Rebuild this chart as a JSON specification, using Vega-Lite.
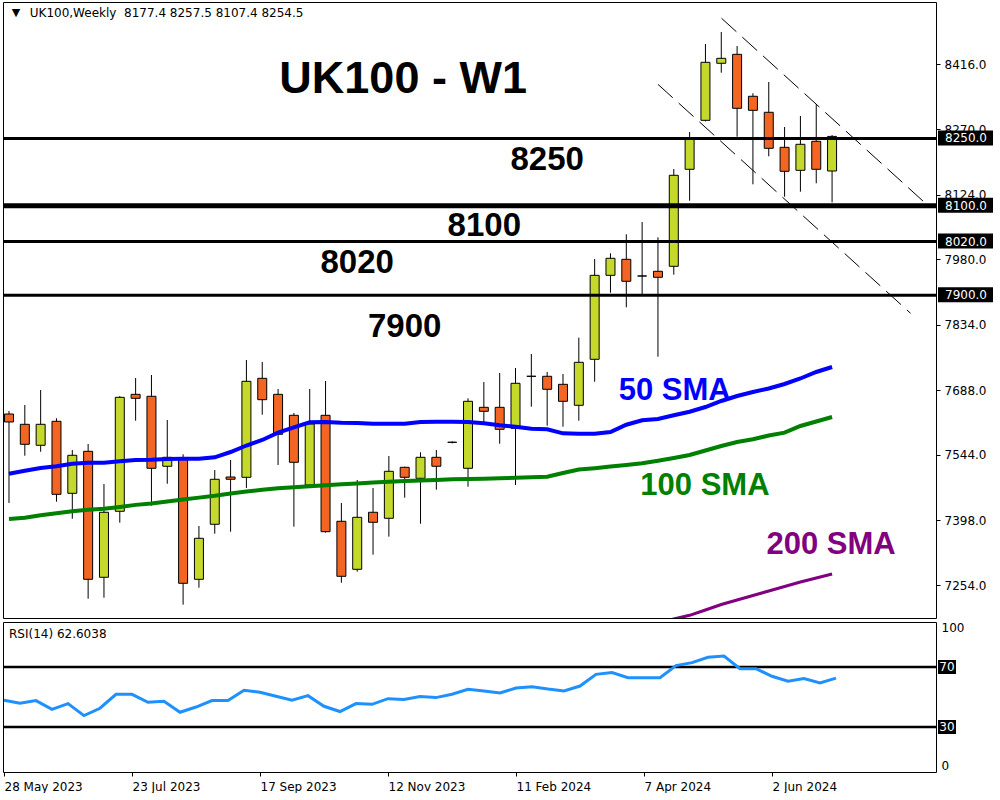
{
  "$schema": "https://vega.github.io/schema/vega-lite/v6.json",
  "background": "white",
  "padding": {"left": 2, "top": 1, "right": 0, "bottom": 0},
  "spacing": 1,
  "config": {"view": {"stroke": "black", "strokeWidth": 1}, "axis": {"grid": false}},
  "datasets": {
    "candles": [
      {"i":0,"o":7635.4,"h":7642.1,"l":7436.9,"c":7617.6},
      {"i":1,"o":7612.4,"h":7655.5,"l":7542.4,"c":7567.8},
      {"i":2,"o":7565.6,"h":7688.9,"l":7551.3,"c":7612.4},
      {"i":3,"o":7619.1,"h":7625.8,"l":7439.8,"c":7456.3},
      {"i":4,"o":7458.5,"h":7555.1,"l":7401.9,"c":7543.3},
      {"i":5,"o":7552.2,"h":7568.5,"l":7223.5,"c":7266.7},
      {"i":6,"o":7271.2,"h":7479.3,"l":7225.7,"c":7416.2},
      {"i":7,"o":7418.4,"h":7675.5,"l":7393.0,"c":7672.6},
      {"i":8,"o":7679.3,"h":7715.7,"l":7620.5,"c":7670.4},
      {"i":9,"o":7674.9,"h":7722.4,"l":7430.9,"c":7514.3},
      {"i":10,"o":7518.8,"h":7622.0,"l":7479.9,"c":7538.8},
      {"i":11,"o":7536.6,"h":7545.5,"l":7210.1,"c":7257.8},
      {"i":12,"o":7266.7,"h":7385.6,"l":7248.0,"c":7358.2},
      {"i":13,"o":7389.4,"h":7510.5,"l":7368.4,"c":7489.8},
      {"i":14,"o":7494.9,"h":7532.8,"l":7372.9,"c":7489.8},
      {"i":15,"o":7494.2,"h":7755.8,"l":7470.4,"c":7708.3},
      {"i":16,"o":7715.0,"h":7751.4,"l":7633.8,"c":7667.3},
      {"i":17,"o":7679.3,"h":7691.2,"l":7521.7,"c":7590.1},
      {"i":18,"o":7632.5,"h":7637.6,"l":7384.0,"c":7527.7},
      {"i":19,"o":7477.0,"h":7691.2,"l":7472.6,"c":7613.1},
      {"i":20,"o":7632.5,"h":7709.0,"l":7370.7,"c":7372.9},
      {"i":21,"o":7396.1,"h":7436.9,"l":7259.1,"c":7273.4},
      {"i":22,"o":7289.0,"h":7488.2,"l":7283.7,"c":7405.0},
      {"i":23,"o":7416.2,"h":7470.4,"l":7321.6,"c":7393.9},
      {"i":24,"o":7402.8,"h":7541.7,"l":7361.8,"c":7507.6},
      {"i":25,"o":7516.5,"h":7518.0,"l":7448.7,"c":7494.2},
      {"i":26,"o":7492.0,"h":7550.0,"l":7390.7,"c":7538.8},
      {"i":27,"o":7538.8,"h":7555.1,"l":7466.6,"c":7518.8},
      {"i":28,"o":7572.3,"h":7574.5,"l":7570.0,"c":7572.3},
      {"i":29,"o":7514.3,"h":7670.4,"l":7473.3,"c":7663.7},
      {"i":30,"o":7650.3,"h":7706.8,"l":7614.7,"c":7641.4},
      {"i":31,"o":7650.3,"h":7726.8,"l":7569.2,"c":7601.3},
      {"i":32,"o":7603.5,"h":7738.0,"l":7477.0,"c":7703.9},
      {"i":33,"o":7719.5,"h":7769.2,"l":7651.7,"c":7719.5},
      {"i":34,"o":7719.5,"h":7729.1,"l":7609.3,"c":7690.5},
      {"i":35,"o":7701.6,"h":7724.6,"l":7607.1,"c":7663.7},
      {"i":36,"o":7654.8,"h":7805.6,"l":7620.5,"c":7750.7},
      {"i":37,"o":7757.4,"h":7981.1,"l":7707.4,"c":7944.7},
      {"i":38,"o":7944.7,"h":7993.8,"l":7905.9,"c":7982.7},
      {"i":39,"o":7980.4,"h":8036.2,"l":7873.4,"c":7931.4},
      {"i":40,"o":7943.2,"h":8063.6,"l":7901.5,"c":7943.2},
      {"i":41,"o":7953.7,"h":8029.5,"l":7763.2,"c":7940.3},
      {"i":42,"o":7964.8,"h":8181.8,"l":7946.1,"c":8167.8},
      {"i":43,"o":8181.2,"h":8264.3,"l":8111.1,"c":8248.1},
      {"i":44,"o":8290.4,"h":8460.6,"l":8288.0,"c":8419.8},
      {"i":45,"o":8417.6,"h":8487.4,"l":8396.6,"c":8428.7},
      {"i":46,"o":8437.6,"h":8456.1,"l":8253.9,"c":8317.2},
      {"i":47,"o":8344.0,"h":8350.7,"l":8147.7,"c":8312.7},
      {"i":48,"o":8308.3,"h":8375.9,"l":8210.1,"c":8228.0},
      {"i":49,"o":8230.2,"h":8275.5,"l":8120.0,"c":8176.7},
      {"i":50,"o":8178.9,"h":8300.0,"l":8131.2,"c":8236.9},
      {"i":51,"o":8243.6,"h":8326.1,"l":8149.9,"c":8181.2},
      {"i":52,"o":8177.4,"h":8257.5,"l":8107.4,"c":8254.5}
    ],
    "sma": [
      {"i":0,"s50":7502.2,"s100":7401.2},{"i":1,"s50":7508.9,"s100":7404.1},{"i":2,"s50":7515.0,"s100":7409.7},
      {"i":3,"s50":7518.7,"s100":7414.2},{"i":4,"s50":7524.6,"s100":7418.4},{"i":5,"s50":7526.8,"s100":7422.0},
      {"i":6,"s50":7526.8,"s100":7424.2},{"i":7,"s50":7529.9,"s100":7428.2},{"i":8,"s50":7532.8,"s100":7432.7},
      {"i":9,"s50":7533.5,"s100":7435.8},{"i":10,"s50":7535.0,"s100":7440.0},{"i":11,"s50":7535.7,"s100":7444.7},
      {"i":12,"s50":7535.7,"s100":7448.9},{"i":13,"s50":7538.8,"s100":7453.0},{"i":14,"s50":7550.6,"s100":7457.9},
      {"i":15,"s50":7565.1,"s100":7462.5},{"i":16,"s50":7577.4,"s100":7466.3},{"i":17,"s50":7593.7,"s100":7469.7},
      {"i":18,"s50":7605.7,"s100":7471.9},{"i":19,"s50":7616.9,"s100":7474.3},{"i":20,"s50":7617.6,"s100":7476.4},
      {"i":21,"s50":7616.0,"s100":7478.6},{"i":22,"s50":7615.3,"s100":7480.6},{"i":23,"s50":7613.7,"s100":7482.6},
      {"i":24,"s50":7613.7,"s100":7484.2},{"i":25,"s50":7613.7,"s100":7486.0},{"i":26,"s50":7617.6,"s100":7487.3},
      {"i":27,"s50":7618.2,"s100":7488.4},{"i":28,"s50":7618.2,"s100":7489.8},{"i":29,"s50":7617.6,"s100":7490.5},
      {"i":30,"s50":7614.6,"s100":7491.1},{"i":31,"s50":7610.2,"s100":7492.0},{"i":32,"s50":7607.1,"s100":7493.1},
      {"i":33,"s50":7602.6,"s100":7494.2},{"i":34,"s50":7601.3,"s100":7495.6},{"i":35,"s50":7592.3,"s100":7503.8},
      {"i":36,"s50":7591.4,"s100":7511.6},{"i":37,"s50":7591.4,"s100":7514.5},{"i":38,"s50":7595.3,"s100":7518.1},
      {"i":39,"s50":7611.5,"s100":7521.7},{"i":40,"s50":7621.3,"s100":7525.7},{"i":41,"s50":7624.2,"s100":7531.0},
      {"i":42,"s50":7632.5,"s100":7537.3},{"i":43,"s50":7640.5,"s100":7544.0},{"i":44,"s50":7651.0,"s100":7554.0},
      {"i":45,"s50":7664.4,"s100":7564.0},{"i":46,"s50":7675.5,"s100":7572.9},{"i":47,"s50":7684.5,"s100":7579.0},
      {"i":48,"s50":7692.3,"s100":7587.4},{"i":49,"s50":7702.3,"s100":7593.7},{"i":50,"s50":7714.6,"s100":7608.6},
      {"i":51,"s50":7729.1,"s100":7618.7},{"i":52,"s50":7740.2,"s100":7628.7}
    ],
    "sma200": [
      {"i":39,"s200":7151.0},{"i":40,"s200":7160.0},{"i":41,"s200":7169.3},{"i":42,"s200":7178.2},{"i":43,"s200":7186.4},
      {"i":44,"s200":7198.3},{"i":45,"s200":7210.5},{"i":46,"s200":7220.6},{"i":47,"s200":7230.6},
      {"i":48,"s200":7240.6},{"i":49,"s200":7250.7},{"i":50,"s200":7260.7},{"i":51,"s200":7269.6},{"i":52,"s200":7278.5}
    ],
    "trend": [
      {"line":"upper","i":45.02,"p":8517.9},{"line":"upper","i":57.83,"p":8107.6},
      {"line":"lower","i":41.0,"p":8370.7},{"line":"lower","i":56.96,"p":7860.0}
    ],
    "rsi": [
      {"i":0,"r":47.8},{"i":1,"r":45.8},{"i":2,"r":47.6},{"i":3,"r":41.8},{"i":4,"r":45.6},{"i":5,"r":37.6},
      {"i":6,"r":42.5},{"i":7,"r":51.8},{"i":8,"r":51.8},{"i":9,"r":46.5},{"i":10,"r":47.1},{"i":11,"r":39.8},
      {"i":12,"r":43.3},{"i":13,"r":47.6},{"i":14,"r":47.6},{"i":15,"r":54.5},{"i":16,"r":53.1},{"i":17,"r":50.5},
      {"i":18,"r":47.8},{"i":19,"r":50.9},{"i":20,"r":43.8},{"i":21,"r":40.3},{"i":22,"r":45.6},{"i":23,"r":45.1},
      {"i":24,"r":48.9},{"i":25,"r":48.3},{"i":26,"r":50.3},{"i":27,"r":49.6},{"i":28,"r":51.8},{"i":29,"r":55.1},
      {"i":30,"r":54.0},{"i":31,"r":52.7},{"i":32,"r":56.0},{"i":33,"r":56.9},{"i":34,"r":55.3},{"i":35,"r":54.0},
      {"i":36,"r":57.3},{"i":37,"r":65.1},{"i":38,"r":66.3},{"i":39,"r":62.9},{"i":40,"r":62.9},{"i":41,"r":62.9},
      {"i":42,"r":70.9},{"i":43,"r":72.9},{"i":44,"r":76.5},{"i":45,"r":77.3},{"i":46,"r":68.9},{"i":47,"r":68.9},
      {"i":48,"r":63.8},{"i":49,"r":60.5},{"i":50,"r":62.3},{"i":51,"r":59.3},{"i":52,"r":62.6}
    ],
    "levels": [{"lv":8250},{"lv":8100},{"lv":8020},{"lv":7900}],
    "rsilevels": [{"lv":70},{"lv":30}]
  },
  "vconcat": [
    {
      "width": 933,
      "height": 616,
      "layer": [
        {
          "data": {"name": "candles"},
          "mark": {"type": "rule", "color": "black", "strokeWidth": 1, "clip": true},
          "encoding": {
            "x": {"field": "i", "type": "quantitative", "title": null, "axis": null, "scale": {"domain": [-0.0625, 58.25], "nice": false, "zero": false}},
            "y": {"field": "l", "type": "quantitative", "title": null, "scale": {"domain": [7180.4, 8554.3], "nice": false, "zero": false},
                  "axis": {"orient": "right", "values": [7254, 7398, 7544, 7688, 7834, 7980, 8124, 8270, 8416], "format": ".1f",
                           "labelFont": "DejaVu Sans", "labelFontSize": 12, "labelColor": "black", "tickSize": 4, "tickColor": "black",
                           "labelPadding": 4, "domain": false, "grid": false, "labelOverlap": false, "labelFlush": false, "labelBound": false, "title": null}},
            "y2": {"field": "h"}
          }
        },
        {
          "data": {"name": "candles"},
          "mark": {"type": "bar", "size": 9, "stroke": "black", "strokeWidth": 1, "clip": true},
          "encoding": {
            "x": {"field": "i", "type": "quantitative", "title": null},
            "y": {"field": "o", "type": "quantitative", "title": null},
            "y2": {"field": "c"},
            "fill": {"condition": {"test": "datum.c >= datum.o", "value": "#C5D92D"}, "value": "#F26522"}
          }
        },
        {
          "data": {"name": "levels"},
          "mark": {"type": "rule", "color": "black", "clip": true},
          "encoding": {
            "y": {"field": "lv", "type": "quantitative", "title": null},
            "strokeWidth": {"condition": {"test": "datum.lv == 8100", "value": 5}, "value": 3}
          }
        },
        {
          "data": {"name": "trend"},
          "mark": {"type": "line", "color": "black", "strokeWidth": 1, "strokeDash": [20, 8], "clip": true},
          "encoding": {
            "x": {"field": "i", "type": "quantitative", "title": null},
            "y": {"field": "p", "type": "quantitative", "title": null},
            "detail": {"field": "line"}
          }
        },
        {
          "data": {"name": "sma"},
          "mark": {"type": "line", "color": "#0000FF", "strokeWidth": 4, "clip": true},
          "encoding": {
            "x": {"field": "i", "type": "quantitative", "title": null},
            "y": {"field": "s50", "type": "quantitative", "title": null}
          }
        },
        {
          "data": {"name": "sma"},
          "mark": {"type": "line", "color": "#008000", "strokeWidth": 4, "clip": true},
          "encoding": {
            "x": {"field": "i", "type": "quantitative", "title": null},
            "y": {"field": "s100", "type": "quantitative", "title": null}
          }
        },
        {
          "data": {"name": "sma200"},
          "mark": {"type": "line", "color": "#800080", "strokeWidth": 3, "clip": true},
          "encoding": {
            "x": {"field": "i", "type": "quantitative", "title": null},
            "y": {"field": "s200", "type": "quantitative", "title": null}
          }
        },
        {
          "data": {"values": [{}]},
          "mark": {"type": "text", "text": "▼", "font": "DejaVu Sans", "fontSize": 11, "align": "center", "baseline": "middle", "color": "black"},
          "encoding": {"x": {"datum": 0.44, "type": "quantitative"}, "y": {"datum": 8529.7, "type": "quantitative"}}
        },
        {
          "data": {"values": [{}]},
          "mark": {"type": "text", "text": "UK100,Weekly\u00a0 8177.4 8257.5 8107.4 8254.5", "font": "DejaVu Sans", "fontSize": 12, "align": "left", "baseline": "middle", "color": "black"},
          "encoding": {"x": {"datum": 1.31, "type": "quantitative"}, "y": {"datum": 8529.7, "type": "quantitative"}}
        },
        {
          "data": {"values": [{}]},
          "mark": {"type": "text", "text": "UK100 - W1", "font": "Liberation Sans", "fontWeight": "bold", "fontSize": 45, "align": "center", "baseline": "alphabetic", "color": "black"},
          "encoding": {"x": {"datum": 24.9, "type": "quantitative"}, "y": {"datum": 8350.7, "type": "quantitative"}}
        },
        {
          "data": {"values": [{}]},
          "mark": {"type": "text", "text": "8250", "font": "Liberation Sans", "fontWeight": "bold", "fontSize": 33, "align": "center", "baseline": "alphabetic", "color": "black"},
          "encoding": {"x": {"datum": 34.0, "type": "quantitative"}, "y": {"datum": 8178.5, "type": "quantitative"}}
        },
        {
          "data": {"values": [{}]},
          "mark": {"type": "text", "text": "8100", "font": "Liberation Sans", "fontWeight": "bold", "fontSize": 33, "align": "center", "baseline": "alphabetic", "color": "black"},
          "encoding": {"x": {"datum": 30.03, "type": "quantitative"}, "y": {"datum": 8031.3, "type": "quantitative"}}
        },
        {
          "data": {"values": [{}]},
          "mark": {"type": "text", "text": "8020", "font": "Liberation Sans", "fontWeight": "bold", "fontSize": 33, "align": "center", "baseline": "alphabetic", "color": "black"},
          "encoding": {"x": {"datum": 22.0, "type": "quantitative"}, "y": {"datum": 7948.8, "type": "quantitative"}}
        },
        {
          "data": {"values": [{}]},
          "mark": {"type": "text", "text": "7900", "font": "Liberation Sans", "fontWeight": "bold", "fontSize": 33, "align": "center", "baseline": "alphabetic", "color": "black"},
          "encoding": {"x": {"datum": 25.0, "type": "quantitative"}, "y": {"datum": 7808.2, "type": "quantitative"}}
        },
        {
          "data": {"values": [{}]},
          "mark": {"type": "text", "text": "50 SMA", "font": "Liberation Sans", "fontWeight": "bold", "fontSize": 31, "align": "center", "baseline": "alphabetic", "color": "#0000FF"},
          "encoding": {"x": {"datum": 42.06, "type": "quantitative"}, "y": {"datum": 7666.6, "type": "quantitative"}}
        },
        {
          "data": {"values": [{}]},
          "mark": {"type": "text", "text": "100 SMA", "font": "Liberation Sans", "fontWeight": "bold", "fontSize": 31, "align": "center", "baseline": "alphabetic", "color": "#008000"},
          "encoding": {"x": {"datum": 43.97, "type": "quantitative"}, "y": {"datum": 7454.7, "type": "quantitative"}}
        },
        {
          "data": {"values": [{}]},
          "mark": {"type": "text", "text": "200 SMA", "font": "Liberation Sans", "fontWeight": "bold", "fontSize": 31, "align": "center", "baseline": "alphabetic", "color": "#800080"},
          "encoding": {"x": {"datum": 51.94, "type": "quantitative"}, "y": {"datum": 7323.2, "type": "quantitative"}}
        },
        {
          "data": {"name": "levels"},
          "mark": {"type": "rect", "color": "black", "clip": false, "xOffset": 2, "x2Offset": 57, "yOffset": -8, "y2Offset": 7},
          "encoding": {
            "x": {"value": "width"}, "x2": {"value": "width"},
            "y": {"field": "lv", "type": "quantitative", "title": null}, "y2": {"field": "lv"}
          }
        },
        {
          "data": {"name": "levels"},
          "mark": {"type": "text", "color": "white", "font": "DejaVu Sans", "fontSize": 12, "align": "center", "baseline": "middle", "dx": 30, "clip": false},
          "encoding": {
            "x": {"value": "width"},
            "y": {"field": "lv", "type": "quantitative", "title": null},
            "text": {"field": "lv", "type": "quantitative", "format": ".1f"}
          }
        }
      ]
    },
    {
      "width": 933,
      "height": 150,
      "layer": [
        {
          "data": {"name": "rsilevels"},
          "mark": {"type": "rule", "color": "black", "strokeWidth": 2.5, "clip": true},
          "encoding": {
            "y": {"field": "lv", "type": "quantitative", "title": null, "scale": {"domain": [0, 100], "nice": false, "zero": false},
                  "axis": {"orient": "right", "values": [0, 100], "labelFont": "DejaVu Sans", "labelFontSize": 12, "labelColor": "black",
                           "ticks": false, "labelPadding": 5, "domain": false, "grid": false, "labelFlush": true, "labelOverlap": false, "title": null}}
          }
        },
        {
          "data": {"name": "rsi"},
          "mark": {"type": "line", "color": "#1E90FF", "strokeWidth": 3, "clip": true},
          "encoding": {
            "x": {"field": "i", "type": "quantitative", "title": null, "scale": {"domain": [-0.0625, 58.25], "nice": false, "zero": false},
                  "axis": {"values": [0, 8, 16, 24, 32, 40, 48],
                           "labelExpr": "datum.value==0?'28 May 2023':datum.value==8?'23 Jul 2023':datum.value==16?'17 Sep 2023':datum.value==24?'12 Nov 2023':datum.value==32?'11 Feb 2024':datum.value==40?'7 Apr 2024':'2 Jun 2024'",
                           "labelAlign": "left", "labelFont": "DejaVu Sans", "labelFontSize": 12, "labelColor": "black", "tickColor": "black",
                           "tickSize": 4, "labelPadding": 5, "domain": false, "grid": false, "labelBound": false, "labelOverlap": false, "labelFlush": false, "title": null}},
            "y": {"field": "r", "type": "quantitative", "title": null}
          }
        },
        {
          "data": {"values": [{}]},
          "mark": {"type": "text", "text": "RSI(14) 62.6038", "font": "DejaVu Sans", "fontSize": 12, "align": "left", "baseline": "middle", "color": "black"},
          "encoding": {"x": {"datum": 0.31, "type": "quantitative"}, "y": {"datum": 91.8, "type": "quantitative"}}
        },
        {
          "data": {"name": "rsilevels"},
          "mark": {"type": "rect", "color": "black", "clip": false, "xOffset": 2, "x2Offset": 20, "yOffset": -7, "y2Offset": 7},
          "encoding": {
            "x": {"value": "width"}, "x2": {"value": "width"},
            "y": {"field": "lv", "type": "quantitative", "title": null}, "y2": {"field": "lv"}
          }
        },
        {
          "data": {"name": "rsilevels"},
          "mark": {"type": "text", "color": "white", "font": "DejaVu Sans", "fontSize": 12, "align": "center", "baseline": "middle", "dx": 11, "clip": false},
          "encoding": {
            "x": {"value": "width"},
            "y": {"field": "lv", "type": "quantitative", "title": null},
            "text": {"field": "lv", "type": "quantitative"}
          }
        }
      ]
    }
  ]
}
